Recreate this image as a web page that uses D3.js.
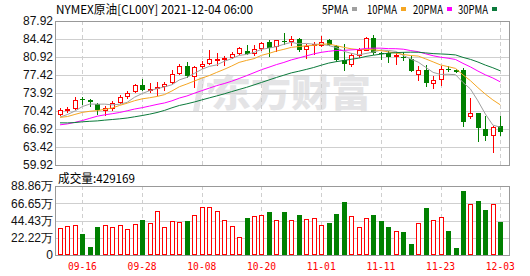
<!DOCTYPE html>
<html>
<head>
<meta charset="utf-8">
<script src="https://cdn.jsdelivr.net/npm/d3@7"></script>
<style>
  body { margin: 0; background: #fff; }
  svg { display: block; }
</style>
</head>
<body>
<div id="chart"></div>
<script>

// trading days shown (CL00Y daily)
var dates = ["09-13","09-14","09-15","09-16","09-17","09-20","09-21","09-22","09-23","09-24",
  "09-27","09-28","09-29","09-30","10-01","10-04","10-05","10-06","10-07","10-08",
  "10-11","10-12","10-13","10-14","10-15","10-18","10-19","10-20","10-21","10-22",
  "10-25","10-26","10-27","10-28","10-29","11-01","11-02","11-03","11-04","11-05",
  "11-08","11-09","11-10","11-11","11-12","11-15","11-16","11-17","11-18","11-19",
  "11-22","11-23","11-24","11-25","11-26","11-29","11-30","12-01","12-02","12-03"];

var opens = [69.84,70.68,71.00,72.69,72.62,71.72,70.68,70.94,72.17,73.27,
  74.38,75.48,74.50,74.83,75.28,76.06,77.81,79.23,77.16,79.17,
  79.75,80.40,80.47,80.86,81.70,82.15,81.70,82.61,83.77,83.00,
  84.10,83.97,84.42,82.48,83.19,83.32,84.16,83.00,80.40,79.56,
  81.24,82.35,84.68,81.70,81.70,81.11,80.92,80.53,77.61,78.46,
  75.87,76.64,78.59,78.46,78.46,69.38,70.03,66.99,65.75,67.57];

var highs = [71.07,71.26,73.14,73.08,72.82,71.98,71.33,72.37,73.53,74.38,
  75.67,76.71,75.93,76.12,76.12,78.39,79.62,79.88,79.11,80.21,
  82.35,81.70,81.18,81.83,82.80,83.32,83.19,83.77,84.16,84.29,
  85.59,85.07,84.61,83.45,83.84,85.07,84.42,83.32,83.51,81.70,
  82.61,84.81,85.13,81.96,82.02,81.70,81.89,81.05,79.11,79.43,
  77.16,79.11,79.11,78.59,78.72,72.95,70.03,69.38,67.44,69.38];

var lows = [69.58,70.23,70.81,71.85,71.46,69.84,69.71,70.68,71.98,72.88,
  74.18,74.44,74.05,73.60,74.44,75.87,77.55,77.03,75.02,78.78,
  79.56,79.43,79.43,80.73,81.50,81.57,81.24,82.35,81.05,82.15,
  83.45,83.19,82.15,80.66,81.50,83.00,83.19,80.08,78.33,79.11,
  80.92,82.22,81.44,80.53,79.88,79.56,80.40,78.13,76.51,75.22,
  74.89,75.41,78.13,77.94,67.44,69.06,64.52,64.85,62.38,65.82];

var closes = [70.68,70.87,72.62,72.56,72.11,70.55,70.94,71.91,73.14,73.99,
  75.54,74.44,74.76,75.09,75.67,77.68,79.17,77.16,78.98,79.62,
  80.53,80.60,80.66,81.57,82.74,81.57,82.54,83.64,82.74,84.16,
  83.90,84.42,82.22,83.12,83.38,83.84,83.19,80.27,79.56,81.37,
  82.22,84.61,81.70,81.50,80.92,81.31,80.66,78.26,78.46,75.87,
  76.38,78.65,78.46,78.07,68.28,70.03,67.12,65.63,67.31,66.27];

// volume in 万 (10k lots)
var volumes = [34.2,36.8,38.1,26.9,10.0,36.0,38.1,35.5,38.1,32.9,
  39.4,45.1,40.7,56.4,35.5,43.4,42.0,43.8,51.2,61.6,
  61.6,56.4,44.7,36.8,23.8,47.7,50.3,51.6,55.5,44.7,
  55.5,44.7,51.6,46.0,47.3,38.6,41.2,52.9,68.5,49.9,
  35.5,47.3,51.6,43.8,36.0,30.3,29.5,13.9,40.7,60.7,
  44.7,48.6,30.8,8.7,82.8,65.5,69.8,58.1,65.5,42.92];

// closes before the window, only used to feed the averages
var priorCloses = [71.26,70.56,68.15,69.09,68.28,66.48,68.29,69.25,69.09,68.44,
  67.29,66.59,65.46,63.50,62.32,65.64,67.54,68.36,67.42,68.74,
  69.21,68.50,68.59,69.99,69.29,68.35,69.30,68.14,69.72];

var priceTicks = [59.92, 63.42, 66.92, 70.42, 73.92, 77.42, 80.92, 84.42, 87.92];
var volTicks = [0, 22.22, 44.43, 66.65, 88.86];
var dateTicks = ["09-16", "09-28", "10-08", "10-20", "11-01", "11-11", "11-23", "12-03"];

var maPeriods = [5, 10, 20, 30];
var maNames = ["5PMA", "10PMA", "20PMA", "30PMA"];
var maColors = ["#a0a0a0", "#f5a623", "#ff00ff", "#0b7a3b"];

var title = "NYMEX原油[CL00Y] 2021-12-04 06:00";
var volTitle = "成交量:429169";

var upColor = "#ff0000", downColor = "#008000";

//layout
var width = 530, height = 276;
var left = 55, right = 509;
var kTop = 21, kBottom = 165;
var vTop = 186, vBottom = 255;

var svg = d3.select("#chart").append("svg")
  .attr("width", width)
  .attr("height", height)
  .style("font-family", "'Liberation Sans', Arial, sans-serif");

svg.append("rect").attr("width", width).attr("height", height).attr("fill", "#fff");

var x = d3.scalePoint().domain(dates).range([60, 500.3]);
var y = d3.scaleLinear().domain([59.92, 87.92]).range([kBottom, kTop]);
var yv = d3.scaleLinear().domain([0, 88.86]).range([vBottom, vTop]);

function px(v) { return Math.round(v) + 0.5; }

var bars = dates.map(function(d, i) {
  return {date: d, o: opens[i], h: highs[i], l: lows[i], c: closes[i], v: volumes[i]};
});

// watermark
var wm = svg.append("g").attr("fill", "#e4e4e6");
wm.append("path")
  .attr("transform", "translate(193,77)")
  .attr("d", "M6,0 L12,0 L6,34 L0,34 Z M14,6 C24,4 24,14 16,18 L15,14 C18,12 18,9 14,10 Z");
wm.append("text")
  .attr("x", 211)
  .attr("y", 107)
  .attr("textLength", 160)
  .attr("lengthAdjust", "spacingAndGlyphs")
  .style("font-family", "'Noto Sans CJK SC'")
  .style("font-weight", "900")
  .style("font-size", "37px")
  .text("东方财富");

// horizontal grid
svg.append("g").selectAll("line")
  .data(priceTicks.slice(1, -1))
  .enter().append("line")
  .attr("x1", left).attr("x2", right)
  .attr("y1", function(d) { return px(y(d)); })
  .attr("y2", function(d) { return px(y(d)); })
  .attr("stroke", "#cfcfcf");

svg.append("g").selectAll("line")
  .data(volTicks.slice(1, -1))
  .enter().append("line")
  .attr("x1", left).attr("x2", right)
  .attr("y1", function(d) { return px(yv(d)); })
  .attr("y2", function(d) { return px(yv(d)); })
  .attr("stroke", "#cfcfcf");

// dashed verticals at date labels
[[kTop, kBottom], [vTop, vBottom]].forEach(function(span) {
  svg.append("g").selectAll("line")
    .data(dateTicks)
    .enter().append("line")
    .attr("x1", function(d) { return px(x(d)); })
    .attr("x2", function(d) { return px(x(d)); })
    .attr("y1", span[0]).attr("y2", span[1])
    .attr("stroke", "#cfcfcf")
    .attr("stroke-dasharray", "4,3");
});

// borders
svg.append("rect")
  .attr("x", left + 0.5).attr("y", kTop + 0.5)
  .attr("width", right - left).attr("height", kBottom - kTop)
  .attr("fill", "none").attr("stroke", "#999");
svg.append("rect")
  .attr("x", left + 0.5).attr("y", vTop + 0.5)
  .attr("width", right - left).attr("height", vBottom - vTop)
  .attr("fill", "none").attr("stroke", "#999");

// candles
var candle = svg.append("g").selectAll("g")
  .data(bars)
  .enter().append("g");

candle.append("line")
  .attr("x1", function(d) { return px(x(d.date)); })
  .attr("x2", function(d) { return px(x(d.date)); })
  .attr("y1", function(d) { return Math.round(y(d.h)); })
  .attr("y2", function(d) { return Math.round(y(d.l)) + 1; })
  .attr("stroke", function(d) { return d.c >= d.o ? upColor : downColor; });

candle.append("rect")
  .attr("x", function(d) {
    var cx = Math.round(x(d.date));
    return d.c >= d.o ? cx - 1.5 : cx - 2;
  })
  .attr("y", function(d) {
    var t = Math.round(y(Math.max(d.o, d.c)));
    return d.c >= d.o ? t + 0.5 : t;
  })
  .attr("width", function(d) { return d.c >= d.o ? 4 : 5; })
  .attr("height", function(d) {
    var h = Math.round(y(Math.min(d.o, d.c))) - Math.round(y(Math.max(d.o, d.c)));
    return d.c >= d.o ? h : Math.max(1, h);
  })
  .attr("fill", function(d) { return d.c >= d.o ? "#fff" : downColor; })
  .attr("stroke", function(d) { return d.c >= d.o ? upColor : "none"; });

// moving averages
var allCloses = priorCloses.concat(closes);
var offset = priorCloses.length;

function movingAvg(n) {
  return closes.map(function(c, i) {
    return d3.mean(allCloses.slice(offset + i - n + 1, offset + i + 1));
  });
}

var line = d3.line()
  .x(function(d, i) { return x(dates[i]); })
  .y(function(d) { return y(d); });

maPeriods.forEach(function(n, k) {
  svg.append("path")
    .datum(movingAvg(n))
    .attr("d", line)
    .attr("fill", "none")
    .attr("stroke", maColors[k])
    .attr("stroke-width", 1);
});

// volume bars
svg.append("g").selectAll("rect")
  .data(bars)
  .enter().append("rect")
  .attr("x", function(d) {
    var cx = Math.round(x(d.date));
    return d.c >= d.o ? cx - 1.5 : cx - 2;
  })
  .attr("y", function(d) {
    var t = Math.round(yv(d.v));
    return d.c >= d.o ? t + 0.5 : t;
  })
  .attr("width", function(d) { return d.c >= d.o ? 4 : 5; })
  .attr("height", function(d) {
    var h = vBottom - Math.round(yv(d.v));
    return d.c >= d.o ? h - 1 : h;
  })
  .attr("fill", function(d) { return d.c >= d.o ? "#fff" : downColor; })
  .attr("stroke", function(d) { return d.c >= d.o ? upColor : "none"; });

// axis labels
svg.append("g").selectAll("text")
  .data(priceTicks)
  .enter().append("text")
  .attr("x", 53)
  .attr("y", function(d) { return y(d); })
  .attr("dy", "0.36em")
  .attr("text-anchor", "end")
  .style("font-size", "12px")
  .attr("fill", "#111")
  .text(function(d) { return d.toFixed(2); });

svg.append("g").selectAll("text")
  .data(volTicks)
  .enter().append("text")
  .attr("x", 53)
  .attr("y", function(d) { return yv(d); })
  .attr("dy", "0.36em")
  .attr("text-anchor", "end")
  .style("font-size", "12px")
  .attr("fill", "#111")
  .text(function(d) { return d === 0 ? "0" : d.toFixed(2) + "万"; });

svg.append("g").selectAll("text")
  .data(dateTicks)
  .enter().append("text")
  .attr("x", function(d) { return x(d) - 14.5; })
  .attr("y", 270)
  .attr("textLength", 29)
  .attr("lengthAdjust", "spacingAndGlyphs")
  .style("font-family", "'DejaVu Sans Mono', monospace")
  .style("font-size", "11px")
  .attr("fill", upColor)
  .text(String);

// header
svg.append("text")
  .attr("x", 56)
  .attr("y", 13.5)
  .attr("textLength", 197)
  .attr("lengthAdjust", "spacingAndGlyphs")
  .style("font-family", "'Noto Sans CJK SC'")
  .style("font-size", "12px")
  .attr("fill", "#000")
  .text(title);

svg.append("text")
  .attr("x", 58)
  .attr("y", 182.5)
  .attr("textLength", 77)
  .attr("lengthAdjust", "spacingAndGlyphs")
  .style("font-family", "'Noto Sans CJK SC'")
  .style("font-size", "12px")
  .attr("fill", "#000")
  .text(volTitle);

// legend
var legendX = [322, 367, 413, 458];
var legendW = [26, 30, 30, 30];
var legend = svg.selectAll(null)
  .data(maNames)
  .enter()
  .append("g");

legend.append("text")
  .attr("x", function(d, i) { return legendX[i]; })
  .attr("y", 13.5)
  .attr("textLength", function(d, i) { return legendW[i]; })
  .attr("lengthAdjust", "spacingAndGlyphs")
  .style("font-family", "'Noto Sans CJK SC'")
  .style("font-size", "12px")
  .attr("fill", "#000")
  .text(String);

legend.append("rect")
  .attr("x", function(d, i) { return legendX[i] + legendW[i] + 4; })
  .attr("y", 7)
  .attr("width", 5)
  .attr("height", 4)
  .attr("fill", function(d, i) { return maColors[i]; });

</script>
</body>
</html>
